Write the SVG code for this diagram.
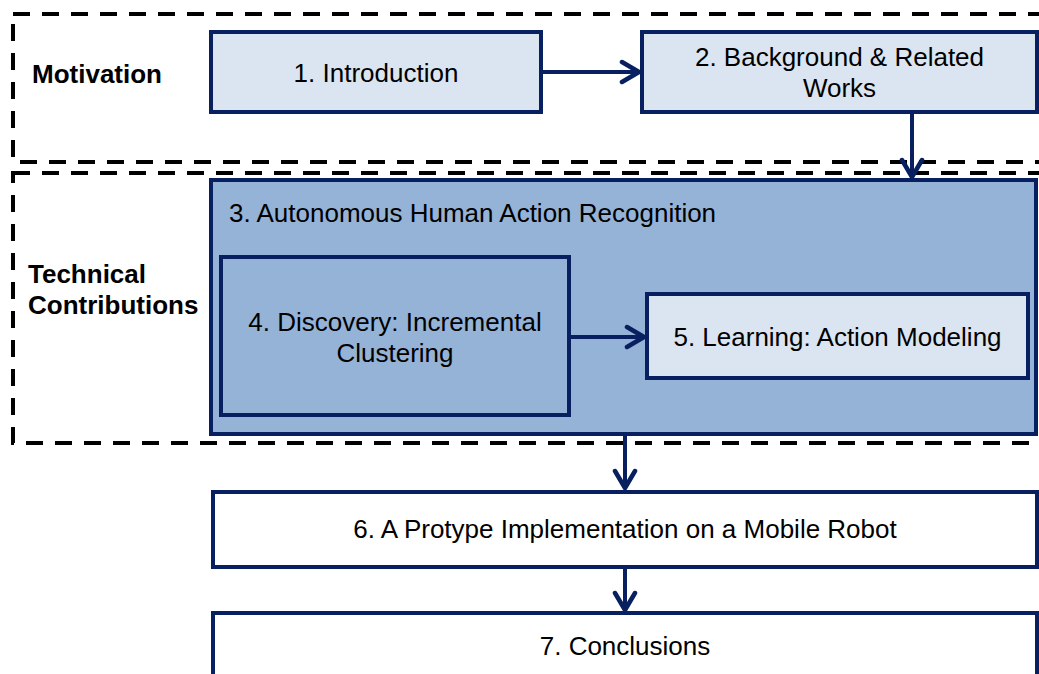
<svg xmlns="http://www.w3.org/2000/svg" width="1039" height="674" viewBox="0 0 1039 674">
  <style>
    .zone { fill: none; stroke: #000000; stroke-width: 4; stroke-dasharray: 17 12; }
    .box { stroke: #082060; stroke-width: 4; }
    .light { fill: #dbe5f1; }
    .mid { fill: #95b3d7; }
    .white { fill: #ffffff; }
    .lbl { font-family: "Liberation Sans", Arial, sans-serif; font-size: 26px; fill: #000000; }
    .c { text-anchor: middle; }
    .bold { font-weight: bold; }
    .link { fill: none; stroke: #082060; stroke-width: 4; }
  </style>
  <defs>
    <marker id="chev" viewBox="-24 -13 28 26" markerWidth="28" markerHeight="26" refX="0" refY="0" orient="auto" markerUnits="userSpaceOnUse">
      <path d="M-18,-10 L-1,0 L-18,10" fill="none" stroke="#082060" stroke-width="4.5" stroke-linecap="round" stroke-linejoin="round"/>
    </marker>
  </defs>

  <rect width="1039" height="674" fill="#ffffff"/>

  <!-- dashed grouping zones -->
  <g id="zone-motivation">
    <rect class="zone" x="13" y="14" width="1040" height="148"/>
    <text class="lbl bold" x="32" y="83">Motivation</text>
  </g>
  <g id="zone-technical">
    <rect class="zone" x="13" y="173" width="1040" height="270"/>
    <text class="lbl bold" x="28" y="283">Technical</text>
    <text class="lbl bold" x="28" y="314">Contributions</text>
  </g>

  <g id="n1">
    <rect class="box light" x="211" y="32" width="330" height="80"/>
    <text class="lbl c" x="376" y="82">1. Introduction</text>
  </g>
  <g id="n2">
    <rect class="box light" x="642" y="32" width="395" height="80"/>
    <text class="lbl c" x="839.5" y="66">2. Background &amp; Related</text>
    <text class="lbl c" x="839.5" y="97">Works</text>
  </g>
  <g id="n3">
    <rect class="box mid" x="211" y="180" width="825" height="254"/>
    <text class="lbl" x="229" y="222">3. Autonomous Human Action Recognition</text>
  </g>
  <g id="n4">
    <rect class="box mid" x="221" y="257" width="348" height="158"/>
    <text class="lbl c" x="395" y="331">4. Discovery: Incremental</text>
    <text class="lbl c" x="395" y="362">Clustering</text>
  </g>
  <g id="n5">
    <rect class="box light" x="647" y="294" width="381" height="84"/>
    <text class="lbl c" x="837.5" y="346">5. Learning: Action Modeling</text>
  </g>
  <g id="n6">
    <rect class="box white" x="213" y="492" width="824" height="75"/>
    <text class="lbl c" x="625" y="538">6. A Protype Implementation on a Mobile Robot</text>
  </g>
  <g id="n7">
    <rect class="box white" x="213" y="613" width="824" height="80"/>
    <text class="lbl c" x="625" y="655">7. Conclusions</text>
  </g>

  <!-- connectors -->
  <g id="connectors">
    <line class="link" x1="541" y1="72" x2="640" y2="72" marker-end="url(#chev)"/>
    <line class="link" x1="912" y1="112" x2="912" y2="178" marker-end="url(#chev)"/>
    <line class="link" x1="569" y1="337" x2="645" y2="337" marker-end="url(#chev)"/>
    <line class="link" x1="625" y1="434" x2="625" y2="489" marker-end="url(#chev)"/>
    <line class="link" x1="625" y1="567" x2="625" y2="611" marker-end="url(#chev)"/>
  </g>
</svg>
